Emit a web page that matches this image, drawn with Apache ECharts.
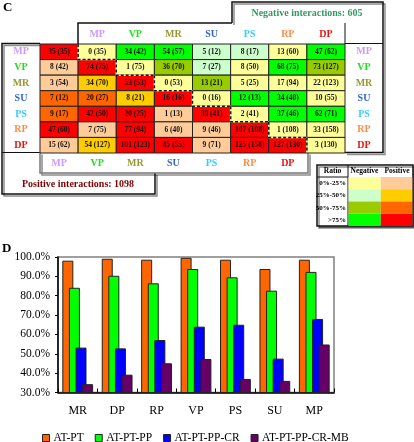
<!DOCTYPE html>
<html><head><meta charset="utf-8">
<script src="https://cdn.jsdelivr.net/npm/echarts@6/dist/echarts.min.js"></script>
<style>html,body{margin:0;padding:0;background:#fff}#c{width:414px;height:442px}</style>
</head><body><div id="c"></div>
<script>
// ---------- Panel C data ----------
const interactionTypes = ['MP','VP','MR','SU','PS','RP','DP'];
const typeColors = ['#CC99FF','#22DD22','#999933','#3366CC','#33CCFF','#FF8C42','#EE1111'];
// each row: 8 cells; columns 0..row are positive interactions, row+1..7 negative
const cellCounts = [
  [35,0,34,54,5,8,13,47],
  [8,74,1,36,7,8,68,73],
  [3,34,53,0,13,5,17,22],
  [7,20,8,16,0,12,34,10],
  [9,42,20,1,39,2,37,62],
  [47,7,77,6,9,107,1,33],
  [15,54,101,45,9,125,127,3]
];
const cellTotals = [
  [35,35,42,57,12,17,60,62],
  [42,75,75,70,27,50,75,127],
  [54,70,53,53,21,25,94,123],
  [12,27,21,16,16,13,40,55],
  [17,50,25,13,41,41,46,71],
  [60,75,94,40,46,108,108,158],
  [62,127,123,55,71,158,130,130]
];
const negativeTotal = 605;
const positiveTotal = 1098;
const ratioBins = ['0%-25%','25%-50%','50%-75%','>75%'];
const negColors = ['#FFFF99','#CCFFCC','#99CC00','#00FF00'];
const posColors = ['#FFCC99','#FFCC00','#FF6600','#FF0000'];

// ---------- Panel D data ----------
const barCategories = ['MR','DP','RP','VP','PS','SU','MP'];
const seriesNames = ['AT-PT','AT-PT-PP','AT-PT-PP-CR','AT-PT-PP-CR-MB'];
const atPt       = [98.1,99.1,98.6,99.6,98.6,93.8,98.6];
const atPtPp     = [84.1,90.3,86.4,93.8,89.5,82.6,92.3];
const atPtPpCr   = [53.2,52.8,57.1,64.0,65.0,47.5,68.0];
const atPtPpCrMb = [34.3,39.2,45.1,47.3,37.0,36.0,54.8];
const barColors = ['#FF6600','#00FF00','#0000FF','#660066'];
const yMin = 30, yMax = 100, yStep = 10;

const SERIF = '"Liberation Serif","Times New Roman",serif';

function binOf(r){ return r<=0.25?0:(r<=0.5?1:(r<=0.75?2:3)); }

const cellData = [];
cellCounts.forEach((row,r)=>row.forEach((v,c)=>{
  cellData.push([c, r, v, cellTotals[r][c], c>r?1:0]);
}));
const stairData = interactionTypes.map((t,i)=>[i+1,i]);

const bottomLabels = interactionTypes.concat(['']);
const topLabels = [' '].concat(interactionTypes);

const chart = echarts.init(document.getElementById('c'), null, {renderer:'canvas'});

const shadow = {shadowColor:'rgba(0,0,0,0.45)', shadowOffsetX:2, shadowOffsetY:2, shadowBlur:0};
function pl(points, stroke, lw, sh){
  return {type:'polyline', z:0, shape:{points:points}, style:Object.assign({stroke:stroke, lineWidth:lw, fill:null}, sh?shadow:{})};
}
function txt(x,y,text,font,fill,align){
  return {type:'text', z:5, x:x, y:y, style:{text:text, font:font, fill:fill, align:align||'center', verticalAlign:'middle'}};
}

const graphics = [
  txt(3,8,'C','bold 13px '+SERIF,'#000','left'),
  txt(2,249,'D','bold 13px '+SERIF,'#000','left'),
  pl([[232,23],[232,2],[383,2],[383,152.5],[345,152.5]],'#111',1.5,true),
  pl([[232,23],[78,23],[78,44]],'#111',1.5,false),
  pl([[345,23],[345,44]],'#111',1,false),
  pl([[345,43.5],[383,43.5]],'#111',1,false),
  pl([[40,43.5],[2,43.5],[2,194],[155,194],[155,173]],'#111',1.5,true),
  pl([[2,152.5],[40,152.5]],'#111',1,false),
  pl([[40,152.5],[40,173],[308,173],[308,152.5]],'#777',1.5,true),
  txt(307,13,'Negative interactions: '+negativeTotal,'bold 10px '+SERIF,'#339966'),
  txt(78,184,'Positive interactions: '+positiveTotal,'bold 10px '+SERIF,'#800000'),
  // ratio legend table
  {type:'rect', z:0, shape:{x:317,y:165,width:96,height:61}, style:Object.assign({fill:'#fff', stroke:'#111', lineWidth:1.5}, shadow)},
  txt(332.5,171,'Ratio','bold 7.5px '+SERIF,'#000'),
  txt(364.5,171,'Negative','bold 7.5px '+SERIF,'#000'),
  txt(397,171,'Positive','bold 7.5px '+SERIF,'#000'),
  pl([[348,165],[348,226]],'#111',1,false),
  pl([[317,177],[348,177]],'#111',1,false)
];
ratioBins.forEach((b,i)=>{
  const y = 177 + i*12.25;
  graphics.push({type:'rect', z:1, shape:{x:348.5,y:y,width:32.25,height:12.25}, style:{fill:negColors[i]}});
  graphics.push({type:'rect', z:1, shape:{x:380.75,y:y,width:31.5,height:12.25}, style:{fill:posColors[i]}});
  graphics.push(txt(346,y+6.2,b,'bold 7px '+SERIF,'#000','right'));
});

const labelColorFn = function(v){ const i = interactionTypes.indexOf(v); return i>=0?typeColors[i]:'#000'; };
const hdrLabel = {fontFamily:SERIF, fontWeight:'bold', fontSize:10, color:labelColorFn, interval:0};

const option = {
  animation:false,
  backgroundColor:'#fff',
  graphic: graphics,
  grid:[
    {left:40, top:44, width:305, height:109, containLabel:false},
    {left:58, top:257, width:276, height:135.5, show:true, borderColor:'#808080', borderWidth:1.5, containLabel:false}
  ],
  xAxis:[
    {gridIndex:0, type:'category', position:'bottom', data:bottomLabels, axisLine:{show:false}, axisTick:{show:false}, splitLine:{show:false},
     axisLabel:Object.assign({margin:10, verticalAlign:'middle'}, hdrLabel)},
    {gridIndex:0, type:'category', position:'top', data:topLabels, axisLine:{show:false}, axisTick:{show:false}, splitLine:{show:false},
     axisLabel:Object.assign({margin:10, verticalAlign:'middle'}, hdrLabel)},
    {gridIndex:1, type:'category', data:barCategories, boundaryGap:true,
     axisLine:{lineStyle:{color:'#000', width:1.5}},
     axisTick:{show:true, inside:true, length:4, alignWithLabel:false, lineStyle:{color:'#000'}},
     axisLabel:{fontFamily:SERIF, fontSize:12, color:'#000', margin:12, interval:0}}
  ],
  yAxis:[
    {gridIndex:0, type:'category', inverse:true, position:'left', data:interactionTypes, axisLine:{show:false}, axisTick:{show:false}, splitLine:{show:false},
     axisLabel:Object.assign({margin:19, align:'center'}, hdrLabel)},
    {gridIndex:0, type:'category', inverse:true, position:'right', data:interactionTypes, axisLine:{show:false}, axisTick:{show:false}, splitLine:{show:false},
     axisLabel:Object.assign({margin:19, align:'center'}, hdrLabel)},
    {gridIndex:1, type:'value', min:yMin, max:yMax, interval:yStep, splitLine:{show:false},
     axisLine:{show:true, lineStyle:{color:'#000', width:1.5}},
     axisTick:{show:true, length:3, lineStyle:{color:'#000'}},
     axisLabel:{fontFamily:SERIF, fontSize:11.5, color:'#000', margin:8, formatter:function(v){return v.toFixed(1)+'%';}}}
  ],
  legend:{
    data:seriesNames, left:37, top:427, icon:'rect', itemWidth:7, itemHeight:7, itemGap:11,
    textStyle:{fontFamily:SERIF, fontSize:11.5, color:'#000', padding:[0,0,0,-1]},
    itemStyle:{borderColor:'#222', borderWidth:1}
  },
  series:[
    {type:'custom', xAxisIndex:0, yAxisIndex:0, z:2, data:cellData,
     renderItem:function(params, api){
       const c = api.value(0), r = api.value(1), v = api.value(2), t = api.value(3), neg = api.value(4);
       const p = api.coord([c, r]); const s = api.size([1,1]);
       const bin = binOf(t ? v/t : 0);
       const fill = neg ? negColors[bin] : posColors[bin];
       return {type:'group', children:[
         {type:'rect', shape:{x:p[0]-s[0]/2, y:p[1]-s[1]/2, width:s[0], height:s[1]}, style:{fill:fill, stroke:'#222', lineWidth:1}},
         {type:'text', x:p[0], y:p[1], style:{text:v+' ('+t+')', align:'center', verticalAlign:'middle', font:'bold 7.5px '+SERIF, fill:'#111'}}
       ]};
     }},
    {type:'custom', xAxisIndex:0, yAxisIndex:0, z:3, data:stairData,
     renderItem:function(params, api){
       const c = api.value(0), r = api.value(1);
       const p = api.coord([c, r]); const s = api.size([1,1]);
       const x0 = p[0]-s[0]/2, x1 = p[0]+s[0]/2, y0 = p[1]-s[1]/2, y1 = p[1]+s[1]/2;
       const pts = r < interactionTypes.length-1 ? [[x0,y0],[x0,y1],[x1,y1]] : [[x0,y0],[x0,y1]];
       return {type:'group', children:[
         {type:'polyline', shape:{points:pts}, style:{stroke:'#FFFFAA', lineWidth:1.5, fill:null}},
         {type:'polyline', shape:{points:pts}, style:{stroke:'#111', lineWidth:1.5, lineDash:[3,2], fill:null}}
       ]};
     }}
  ].concat([atPt, atPtPp, atPtPpCr, atPtPpCrMb].map((d,i)=>({
    type:'bar', name:seriesNames[i], xAxisIndex:2, yAxisIndex:2, data:d,
    barWidth:11, barGap:'-40%',
    itemStyle:{color:barColors[i], borderColor:'#222', borderWidth:1}
  })))
};
chart.setOption(option);
</script>
</body></html>
